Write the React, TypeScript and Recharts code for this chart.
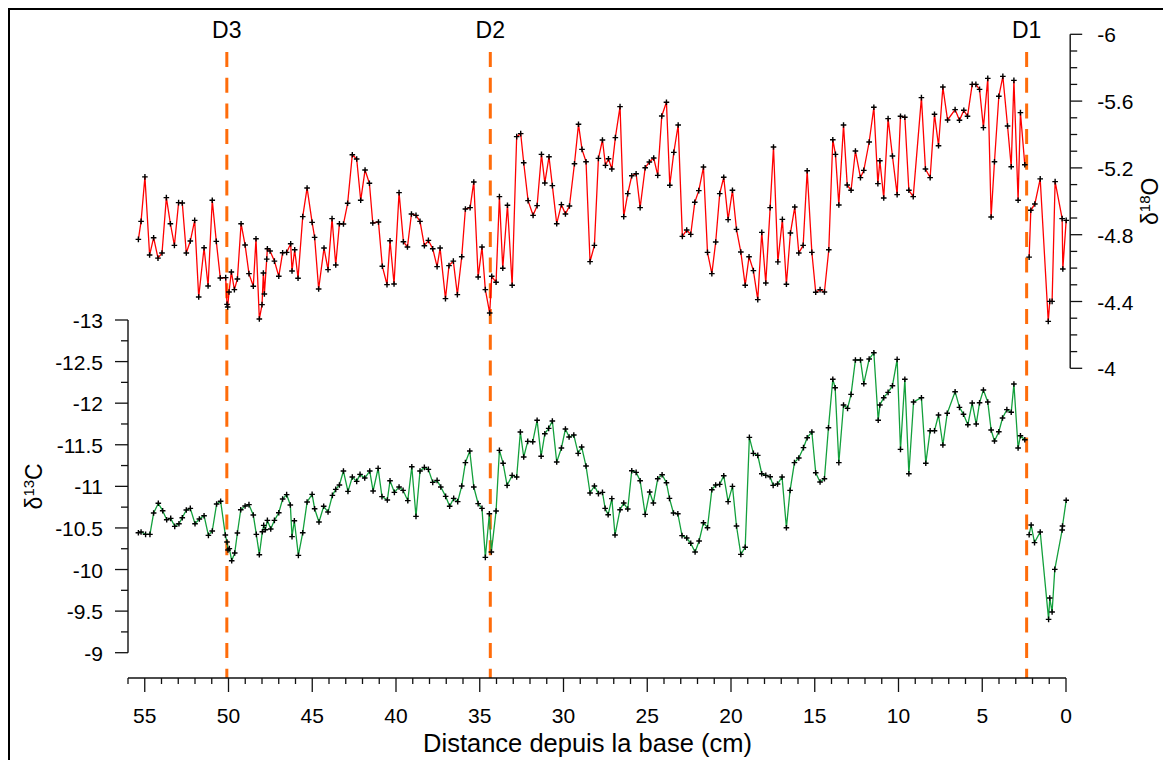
import React from "react";
import { LineChart, Line, XAxis, YAxis, ReferenceLine } from "recharts";

const W = 1163;
const H = 760;
const FONT = '"Liberation Sans", Arial, Helvetica, sans-serif';

// δ18O (red, right axis) — depth in cm from base, null = hiatus at D1
const o18Depth = [
  55.38, 55.22, 54.99, 54.71, 54.47, 54.21, 53.97, 53.71, 53.47, 53.23, 52.98, 52.76, 52.52, 52.28, 52.02,
  51.78, 51.46, 51.22, 50.97, 50.73, 50.49, 50.17, 50.09, 50.05, 49.97, 49.83, 49.65, 49.47, 49.25, 49.01,
  48.78, 48.52, 48.36, 48.16, 48.0, 47.92, 47.86, 47.72, 47.68, 47.52, 47.26, 47.0, 46.77, 46.53, 46.29,
  46.21, 46.05, 45.85, 45.57, 45.31, 45.01, 44.86, 44.62, 44.3, 44.06, 43.82, 43.6, 43.38, 43.14, 42.89,
  42.61, 42.35, 42.11, 41.85, 41.59, 41.39, 41.05, 40.82, 40.54, 40.36, 40.12, 39.82, 39.56, 39.32, 39.08,
  38.81, 38.57, 38.31, 38.07, 37.81, 37.55, 37.37, 37.05, 36.84, 36.58, 36.34, 36.08, 35.86, 35.58, 35.36,
  35.1, 34.87, 34.67, 34.41, 34.29, 34.03, 33.83, 33.63, 33.35, 33.07, 32.8, 32.56, 32.38, 32.12, 31.82,
  31.58, 31.32, 31.12, 30.87, 30.67, 30.41, 30.13, 29.89, 29.65, 29.35, 29.11, 28.9, 28.66, 28.42, 28.16,
  27.92, 27.68, 27.5, 27.32, 27.12, 26.91, 26.63, 26.41, 26.17, 25.93, 25.67, 25.43, 25.13, 24.88, 24.62,
  24.38, 24.14, 23.86, 23.66, 23.42, 23.16, 22.91, 22.65, 22.41, 22.17, 21.93, 21.65, 21.41, 21.15, 20.92,
  20.68, 20.44, 20.18, 19.92, 19.68, 19.42, 19.16, 18.93, 18.67, 18.41, 18.17, 17.93, 17.67, 17.47, 17.21,
  16.94, 16.7, 16.46, 16.2, 15.96, 15.7, 15.46, 15.18, 14.95, 14.69, 14.43, 14.17, 13.93, 13.77, 13.57,
  13.29, 13.07, 12.84, 12.58, 12.28, 12.08, 11.76, 11.48, 11.24, 11.12, 10.89, 10.63, 10.37, 10.09, 9.89,
  9.63, 9.39, 9.13, 8.64, 8.4, 8.12, 7.86, 7.62, 7.36, 7.08, 6.63, 6.37, 6.11, 5.89, 5.61,
  5.39, 5.17, 4.94, 4.68, 4.48, 4.28, 4.02, 3.78, 3.5, 3.28, 3.12, 2.87, 2.73, 2.47, 2.35,
  2.21, 2.11, 1.87, 1.55, 1.07, 0.98, 0.84, 0.66, 0.24, 0.2, 0.0,
];
const o18Value = [
  -4.772, -4.88, -5.146, -4.678, -4.782, -4.66, -4.69, -5.022, -4.866, -4.736, -4.992, -4.99, -4.69, -4.762, -4.886,
  -4.427, -4.722, -4.493, -5.006, -4.76, -4.541, -4.543, -4.383, -4.367, -4.457, -4.577, -4.471, -4.535, -4.866, -4.738,
  -4.567, -4.491, -4.776, -4.295, -4.381, -4.571, -4.445, -4.654, -4.716, -4.702, -4.642, -4.551, -4.692, -4.694, -4.746,
  -4.583, -4.71, -4.539, -4.908, -5.08, -4.874, -4.784, -4.475, -4.72, -4.591, -4.896, -4.619, -4.866, -4.864, -4.988,
  -5.279, -5.253, -5.006, -5.187, -5.108, -4.87, -4.876, -4.611, -4.501, -4.764, -4.505, -5.052, -4.758, -4.726, -4.924,
  -4.916, -4.88, -4.734, -4.766, -4.716, -4.609, -4.72, -4.417, -4.615, -4.642, -4.441, -4.668, -4.954, -4.962, -5.116,
  -4.547, -4.726, -4.471, -4.331, -4.551, -4.515, -5.028, -4.599, -4.976, -4.497, -5.387, -5.405, -5.231, -5.004, -4.916,
  -4.974, -5.281, -5.11, -5.267, -5.094, -4.866, -4.98, -4.924, -4.972, -5.225, -5.461, -5.311, -5.237, -4.639, -4.736,
  -5.257, -5.367, -5.215, -5.255, -5.193, -5.381, -5.567, -4.908, -5.046, -5.153, -5.165, -4.962, -5.201, -5.235, -5.259,
  -5.155, -5.511, -5.593, -5.096, -5.293, -5.457, -4.79, -4.828, -4.802, -4.994, -5.064, -5.205, -4.694, -4.567, -4.756,
  -5.046, -5.144, -4.89, -5.066, -4.832, -4.696, -4.497, -4.668, -4.585, -4.411, -4.814, -4.511, -4.962, -5.325, -4.637,
  -4.892, -4.503, -4.81, -4.966, -4.69, -4.736, -5.183, -4.694, -4.455, -4.471, -4.457, -4.71, -5.369, -5.281, -4.978,
  -5.457, -5.098, -5.066, -5.301, -5.142, -5.185, -5.355, -5.563, -5.106, -5.243, -5.02, -5.495, -5.271, -5.04, -5.509,
  -5.503, -5.066, -5.028, -5.621, -5.193, -5.142, -5.521, -5.333, -5.684, -5.487, -5.549, -5.485, -5.545, -5.509, -5.7,
  -5.7, -5.67, -5.441, -5.736, -4.906, -5.237, -5.629, -5.748, -5.451, -5.207, -5.724, -5.006, -5.531, -5.219, null,
  -4.666, -4.946, -4.984, -5.134, -4.281, -4.401, -4.401, -5.118, -4.896, -4.595, -4.886,
];

// δ13C (green, left axis)
const c13Depth = [
  55.38, 55.22, 54.95, 54.69, 54.47, 54.19, 53.93, 53.69, 53.45, 53.21, 52.96, 52.76, 52.52, 52.28, 52.0,
  51.74, 51.46, 51.2, 50.97, 50.71, 50.47, 50.19, 50.09, 50.03, 49.95, 49.81, 49.63, 49.47, 49.27, 49.01,
  48.78, 48.52, 48.34, 48.16, 47.98, 47.9, 47.8, 47.68, 47.48, 47.26, 47.0, 46.77, 46.53, 46.31, 46.21,
  46.07, 45.83, 45.57, 45.31, 45.01, 44.86, 44.6, 44.32, 44.06, 43.8, 43.6, 43.38, 43.14, 42.87, 42.61,
  42.35, 42.15, 41.87, 41.57, 41.37, 41.07, 40.84, 40.52, 40.36, 40.1, 39.82, 39.58, 39.3, 39.06, 38.81,
  38.57, 38.31, 38.07, 37.81, 37.55, 37.33, 37.04, 36.8, 36.56, 36.32, 36.08, 35.86, 35.6, 35.36, 35.1,
  34.87, 34.67, 34.43, 34.31, 34.03, 33.83, 33.61, 33.37, 33.07, 32.8, 32.58, 32.38, 32.14, 31.84, 31.58,
  31.34, 31.12, 30.89, 30.67, 30.41, 30.13, 29.89, 29.67, 29.39, 29.13, 28.92, 28.66, 28.42, 28.16, 27.92,
  27.68, 27.52, 27.34, 27.12, 26.93, 26.63, 26.41, 26.17, 25.93, 25.67, 25.43, 25.13, 24.86, 24.64, 24.38,
  24.12, 23.86, 23.68, 23.44, 23.18, 22.93, 22.65, 22.41, 22.15, 21.91, 21.65, 21.41, 21.15, 20.92, 20.68,
  20.44, 20.18, 19.92, 19.68, 19.42, 19.16, 18.91, 18.67, 18.41, 18.17, 17.93, 17.67, 17.49, 17.23, 16.96,
  16.7, 16.48, 16.22, 15.96, 15.68, 15.46, 15.18, 14.95, 14.69, 14.43, 14.19, 13.93, 13.79, 13.57, 13.29,
  13.05, 12.84, 12.58, 12.28, 12.08, 11.76, 11.48, 11.22, 11.12, 10.89, 10.63, 10.37, 10.09, 9.89, 9.63,
  9.39, 9.11, 8.64, 8.38, 8.12, 7.86, 7.62, 7.36, 7.1, 6.63, 6.37, 6.13, 5.87, 5.61, 5.37,
  5.17, 4.94, 4.68, 4.48, 4.28, 4.02, 3.8, 3.54, 3.28, 3.12, 2.87, 2.73, 2.47, 2.35, 2.21,
  2.09, 1.89, 1.55, 1.05, 0.98, 0.84, 0.68, 0.24, 0.22, 0.0,
];
const c13Value = [
  -10.443, -10.451, -10.423, -10.423, -10.679, -10.796, -10.707, -10.599, -10.615, -10.519, -10.551, -10.623, -10.715, -10.735, -10.551,
  -10.607, -10.647, -10.411, -10.463, -10.788, -10.82, -10.415, -10.331, -10.235, -10.251, -10.106, -10.198, -10.439, -10.719, -10.764,
  -10.78, -10.655, -10.423, -10.178, -10.455, -10.531, -10.479, -10.591, -10.487, -10.591, -10.683, -10.848, -10.9, -10.776, -10.395,
  -10.587, -10.17, -10.443, -10.812, -10.904, -10.731, -10.571, -10.76, -10.691, -10.892, -10.964, -11.016, -11.184, -10.94, -11.112,
  -11.06, -11.144, -11.1, -11.184, -10.944, -11.216, -10.876, -10.836, -11.068, -10.928, -10.992, -10.952, -10.828, -11.236, -10.639,
  -11.184, -11.228, -11.204, -11.048, -11.072, -10.992, -10.88, -10.76, -10.856, -10.816, -11.004, -11.285, -11.425, -10.992, -10.792,
  -10.735, -10.146, -10.671, -10.21, -10.703, -11.433, -11.277, -11.012, -11.132, -11.112, -11.653, -11.353, -11.541, -11.537, -11.794,
  -11.361, -11.633, -11.697, -11.786, -11.293, -11.461, -11.689, -11.593, -11.617, -11.397, -11.473, -11.244, -10.92, -11.004, -10.912,
  -10.928, -10.735, -10.659, -10.852, -10.415, -10.719, -10.8, -10.727, -11.188, -11.168, -11.068, -10.663, -10.932, -10.8, -11.092,
  -11.14, -11.044, -10.856, -10.679, -10.671, -10.407, -10.379, -10.315, -10.21, -10.343, -10.563, -10.503, -10.96, -11.016, -11.024,
  -11.128, -10.816, -11.0, -10.523, -10.182, -10.267, -11.589, -11.397, -11.373, -11.152, -11.132, -11.116, -11.012, -11.028, -11.112,
  -10.503, -10.952, -11.285, -11.341, -11.465, -11.585, -11.653, -11.164, -11.052, -11.092, -11.705, -12.287, -12.186, -11.285, -11.978,
  -11.938, -12.106, -12.519, -12.519, -12.234, -12.531, -12.607, -11.794, -11.978, -12.066, -12.13, -12.21, -12.527, -11.445, -12.287,
  -11.152, -12.014, -12.066, -11.277, -11.669, -11.669, -11.858, -11.497, -11.878, -12.138, -11.95, -11.866, -11.741, -12.002, -11.749,
  -12.006, -12.158, -12.014, -11.677, -11.545, -11.657, -11.822, -11.922, -11.89, -12.23, -11.461, -11.609, -11.561, null, -10.419,
  -10.535, -10.323, -10.451, -9.401, -9.657, -9.489, -10.002, -10.475, -10.523, -10.832,
];

const xTicks = [
  0, 1, 2, 3, 4, 5, 6, 7, 8, 9, 10, 11, 12, 13, 14, 15, 16, 17, 18, 19, 20, 21, 22, 23, 24, 25, 26, 27, 28,
  29, 30, 31, 32, 33, 34, 35, 36, 37, 38, 39, 40, 41, 42, 43, 44, 45, 46, 47, 48, 49, 50, 51, 52, 53, 54, 55, 56,
];
const c13Ticks = [-13, -12.75, -12.5, -12.25, -12, -11.75, -11.5, -11.25, -11, -10.75, -10.5, -10.25, -10, -9.75, -9.5, -9.25, -9];
const o18Ticks = [-6, -5.9, -5.8, -5.7, -5.6, -5.5, -5.4, -5.3, -5.2, -5.1, -5, -4.9, -4.8, -4.7, -4.6, -4.5, -4.4, -4.3, -4.2, -4.1, -4];

const dividerNames = ["D3", "D2", "D1"];
const dividerDepths = [50.1, 34.37, 2.35];

const o18Data = o18Depth.map((d, i) => ({ d, v: o18Value[i] }));
const c13Data = c13Depth.map((d, i) => ({ d, v: c13Value[i] }));
const dividerData = dividerDepths.map((d, i) => ({ d, name: dividerNames[i], y: 0.5 }));

const AXIS = "#111";
const ORANGE = "#FF6C0A";

const Cross = (props: any) => {
  const { cx, cy, index, value } = props;
  if (cx == null || cy == null || value == null || isNaN(cy)) return <g key={`c-${index}`} />;
  return (
    <path
      key={`c-${index}`}
      d={`M${cx - 2.8},${cy}H${cx + 2.8}M${cx},${cy - 2.8}V${cy + 2.8}`}
      stroke="#000"
      strokeWidth={1.4}
      fill="none"
    />
  );
};

function XTick(props: any) {
  const { x, y, payload } = props;
  const v = payload.value;
  const major = v % 5 === 0;
  return (
    <g>
      <line x1={x} y1={y} x2={x} y2={y + (major ? 14 : 6)} stroke={AXIS} strokeWidth={1.3} />
      {major && (
        <text x={x} y={y + 45} textAnchor="middle" fontSize={21} fill="#000">
          {v}
        </text>
      )}
    </g>
  );
}

function C13Tick(props: any) {
  const { x, y, payload } = props;
  const v = payload.value;
  const major = Math.abs(v * 2 - Math.round(v * 2)) < 1e-6;
  return (
    <g>
      <line x1={x - (major ? 13 : 7)} y1={y} x2={x} y2={y} stroke={AXIS} strokeWidth={1.3} />
      {major && (
        <text x={x - 25} y={y + 8} textAnchor="end" fontSize={21} fill="#000">
          {v}
        </text>
      )}
    </g>
  );
}

function O18Tick(props: any) {
  const { x, y, payload } = props;
  const v = payload.value;
  const q = (v + 6) / 0.4;
  const major = Math.abs(q - Math.round(q)) < 1e-6;
  return (
    <g>
      <line x1={x} y1={y} x2={x + (major ? 12 : 7)} y2={y} stroke={AXIS} strokeWidth={1.3} />
      {major && (
        <text x={x + 27} y={y + 8} textAnchor="start" fontSize={21} fill="#000">
          {v}
        </text>
      )}
    </g>
  );
}

const C13Label = (props: any) => {
  const vb = props.viewBox;
  return (
    <text
      transform={`translate(${vb.x + 24},${vb.y + vb.height / 2}) rotate(-90)`}
      textAnchor="middle"
      fontSize={23}
      fill="#000"
    >
      δ<tspan fontSize={15} dy={-8}>13</tspan>
      <tspan dy={8}>C</tspan>
    </text>
  );
};

const O18Label = (props: any) => {
  const vb = props.viewBox;
  return (
    <text
      transform={`translate(${vb.x + 88},${vb.y + vb.height / 2}) rotate(-90)`}
      textAnchor="middle"
      fontSize={23}
      fill="#000"
    >
      δ<tspan fontSize={15} dy={-8}>18</tspan>
      <tspan dy={8}>O</tspan>
    </text>
  );
};

const XLabel = (props: any) => {
  const vb = props.viewBox;
  return (
    <text x={vb.x + vb.width / 2 - 9.5} y={vb.y + 74} textAnchor="middle" fontSize={25.5} fill="#000">
      Distance depuis la base (cm)
    </text>
  );
};

const DashShape = (p: any) => {
  const top = Math.min(p.y1, p.y2);
  const bot = Math.max(p.y1, p.y2);
  return (
    <line x1={p.x1} x2={p.x2} y1={top} y2={bot} stroke={ORANGE} strokeWidth={3} strokeDasharray="15 10.7" />
  );
};

const dividerLabel = (name: string) => (props: any) => {
  const vb = props.viewBox;
  return (
    <text x={vb.x} y={vb.y - 14} textAnchor="middle" fontSize={23} fill="#000">
      {name}
    </text>
  );
};

const layer: React.CSSProperties = { position: "absolute", left: 0, top: 0 };

export default function App() {
  return (
    <div
      style={{
        position: "fixed",
        left: 0,
        top: 0,
        width: W,
        height: H,
        background: "#fff",
        fontFamily: FONT,
        overflow: "hidden",
      }}
    >
      <div
        style={{
          position: "absolute",
          left: 8,
          top: 8,
          width: W,
          height: H,
          borderLeft: "2px solid #000",
          borderTop: "2px solid #000",
        }}
      />

      {/* bottom axis + divider lines */}
      <div style={layer}>
        <LineChart width={W} height={H} data={dividerData} margin={{ top: 52, right: 97, bottom: 2, left: 128 }}>
          <XAxis
            dataKey="d"
            type="number"
            domain={[0, 56]}
            reversed
            allowDataOverflow
            ticks={xTicks}
            interval={0}
            height={80}
            tickSize={0}
            tickMargin={0}
            tickLine={false}
            axisLine={{ stroke: AXIS, strokeWidth: 1.4 }}
            tick={XTick}
            label={XLabel}
          />
          <YAxis hide type="number" domain={[0, 1]} allowDataOverflow />
          <Line dataKey="y" stroke="none" dot={false} activeDot={false} isAnimationActive={false} />
          {dividerDepths.map((d, i) => (
            <ReferenceLine
              key={dividerNames[i]}
              x={d}
              stroke={ORANGE}
              ifOverflow="visible"
              shape={DashShape}
              label={dividerLabel(dividerNames[i])}
            />
          ))}
        </LineChart>
      </div>

      {/* δ13C */}
      <div style={layer}>
        <LineChart width={W} height={H} data={c13Data} margin={{ top: 320, right: 92.8, bottom: 107.3, left: 18 }}>
          <XAxis dataKey="d" type="number" domain={[-0.24, 56]} reversed allowDataOverflow hide />
          <YAxis
            type="number"
            domain={[-13, -9]}
            reversed
            allowDataOverflow
            ticks={c13Ticks}
            interval={0}
            width={110}
            tickSize={0}
            tickMargin={0}
            tickLine={false}
            axisLine={{ stroke: AXIS, strokeWidth: 1.4 }}
            tick={C13Tick}
            label={C13Label}
          />
          <Line
            type="linear"
            dataKey="v"
            stroke="#13A03C"
            strokeWidth={1.3}
            dot={Cross}
            activeDot={false}
            connectNulls={false}
            isAnimationActive={false}
          />
        </LineChart>
      </div>

      {/* δ18O */}
      <div style={layer}>
        <LineChart width={W} height={H} data={o18Data} margin={{ top: 34.3, right: 12.8, bottom: 391.7, left: 128 }}>
          <XAxis dataKey="d" type="number" domain={[-0.24, 56]} reversed allowDataOverflow hide />
          <YAxis
            orientation="right"
            type="number"
            domain={[-6, -4]}
            reversed
            allowDataOverflow
            ticks={o18Ticks}
            interval={0}
            width={80}
            tickSize={0}
            tickMargin={0}
            tickLine={false}
            axisLine={{ stroke: AXIS, strokeWidth: 1.4 }}
            tick={O18Tick}
            label={O18Label}
          />
          <Line
            type="linear"
            dataKey="v"
            stroke="#FF0000"
            strokeWidth={1.3}
            dot={Cross}
            activeDot={false}
            connectNulls={false}
            isAnimationActive={false}
          />
        </LineChart>
      </div>
    </div>
  );
}
